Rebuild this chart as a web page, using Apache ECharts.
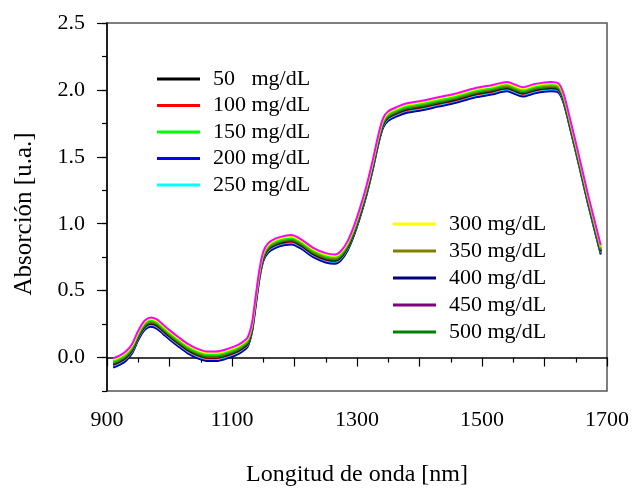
<!DOCTYPE html>
<html>
<head>
<meta charset="utf-8">
<script src="https://cdn.jsdelivr.net/npm/echarts@6/dist/echarts.min.js"></script>
<style>html,body{margin:0;padding:0;background:#fff;}#c{width:632px;height:489px;}</style>
</head>
<body>
<div id="c"></div>
<script>
const wavelengths = [910,920,930,940,950,960,970,980,990,1000,1015,1030,1045,1060,1075,1090,1105,1115,1125,1132,1138,1144,1150,1158,1170,1185,1195,1210,1230,1250,1265,1275,1285,1295,1305,1315,1325,1335,1342,1350,1365,1380,1400,1430,1460,1490,1515,1540,1550,1565,1585,1610,1622,1630,1640,1655,1670,1690];

const s450 = [-0.005,0.015,0.045,0.100,0.200,0.275,0.300,0.285,0.245,0.205,0.150,0.100,0.065,0.045,0.045,0.060,0.085,0.110,0.150,0.260,0.460,0.660,0.790,0.855,0.890,0.910,0.915,0.885,0.820,0.780,0.770,0.800,0.870,0.980,1.120,1.280,1.470,1.680,1.790,1.840,1.875,1.900,1.915,1.945,1.975,2.015,2.035,2.060,2.045,2.020,2.045,2.060,2.050,1.980,1.800,1.510,1.210,0.840];
const s300 = [-0.015,0.005,0.035,0.090,0.190,0.265,0.290,0.275,0.235,0.195,0.140,0.090,0.055,0.035,0.035,0.050,0.075,0.100,0.140,0.250,0.450,0.650,0.780,0.845,0.880,0.900,0.905,0.875,0.810,0.770,0.760,0.790,0.860,0.970,1.110,1.270,1.460,1.670,1.780,1.830,1.865,1.890,1.905,1.935,1.965,2.005,2.025,2.050,2.035,2.010,2.035,2.050,2.040,1.970,1.790,1.500,1.200,0.830];
const s150 = [-0.025,-0.005,0.025,0.080,0.180,0.255,0.280,0.265,0.225,0.185,0.130,0.080,0.045,0.025,0.025,0.040,0.065,0.090,0.130,0.240,0.440,0.640,0.770,0.835,0.870,0.890,0.895,0.865,0.800,0.760,0.750,0.780,0.850,0.960,1.100,1.260,1.450,1.660,1.770,1.820,1.855,1.880,1.895,1.925,1.955,1.995,2.015,2.040,2.025,2.000,2.025,2.040,2.030,1.960,1.780,1.490,1.190,0.820];
const s350 = [-0.035,-0.015,0.015,0.070,0.170,0.245,0.270,0.255,0.215,0.175,0.120,0.070,0.035,0.015,0.015,0.030,0.055,0.080,0.120,0.230,0.430,0.630,0.760,0.825,0.860,0.880,0.885,0.855,0.790,0.750,0.740,0.770,0.840,0.950,1.090,1.250,1.440,1.650,1.760,1.810,1.845,1.870,1.885,1.915,1.945,1.985,2.005,2.030,2.015,1.990,2.015,2.030,2.020,1.950,1.770,1.480,1.180,0.810];
const s500 = [-0.045,-0.025,0.005,0.060,0.160,0.235,0.260,0.245,0.205,0.165,0.110,0.060,0.025,0.005,0.005,0.020,0.045,0.070,0.110,0.220,0.420,0.620,0.750,0.815,0.850,0.870,0.875,0.845,0.780,0.740,0.730,0.760,0.830,0.940,1.080,1.240,1.430,1.640,1.750,1.800,1.835,1.860,1.875,1.905,1.935,1.975,1.995,2.020,2.005,1.980,2.005,2.020,2.010,1.940,1.760,1.470,1.170,0.800];
const s50  = [-0.050,-0.030,0.000,0.055,0.155,0.230,0.255,0.240,0.200,0.160,0.105,0.055,0.020,0.000,0.000,0.015,0.040,0.065,0.105,0.215,0.415,0.615,0.745,0.810,0.845,0.865,0.870,0.840,0.775,0.735,0.725,0.755,0.825,0.935,1.075,1.235,1.425,1.635,1.745,1.795,1.830,1.855,1.870,1.900,1.930,1.970,1.990,2.015,2.000,1.975,2.000,2.015,2.005,1.935,1.755,1.465,1.165,0.795];
const s100 = [-0.055,-0.035,-0.005,0.050,0.150,0.225,0.250,0.235,0.195,0.155,0.100,0.050,0.015,-0.005,-0.005,0.010,0.035,0.060,0.100,0.210,0.410,0.610,0.740,0.805,0.840,0.860,0.865,0.835,0.770,0.730,0.720,0.750,0.820,0.930,1.070,1.230,1.420,1.630,1.740,1.790,1.825,1.850,1.865,1.895,1.925,1.965,1.985,2.010,1.995,1.970,1.995,2.010,2.000,1.930,1.750,1.460,1.160,0.790];
const s250 = [-0.060,-0.040,-0.010,0.045,0.145,0.220,0.245,0.230,0.190,0.150,0.095,0.045,0.010,-0.010,-0.010,0.005,0.030,0.055,0.095,0.205,0.405,0.605,0.735,0.800,0.835,0.855,0.860,0.830,0.765,0.725,0.715,0.745,0.815,0.925,1.065,1.225,1.415,1.625,1.735,1.785,1.820,1.845,1.860,1.890,1.920,1.960,1.980,2.005,1.990,1.965,1.990,2.005,1.995,1.925,1.745,1.455,1.155,0.785];
const s200 = [-0.065,-0.045,-0.015,0.040,0.140,0.215,0.240,0.225,0.185,0.145,0.090,0.040,0.005,-0.015,-0.015,0.000,0.025,0.050,0.090,0.200,0.400,0.600,0.730,0.795,0.830,0.850,0.855,0.825,0.760,0.720,0.710,0.740,0.810,0.920,1.060,1.220,1.410,1.620,1.730,1.780,1.815,1.840,1.855,1.885,1.915,1.955,1.975,2.000,1.985,1.960,1.985,2.000,1.990,1.920,1.740,1.450,1.150,0.780];
const s400 = [-0.075,-0.055,-0.025,0.030,0.130,0.205,0.230,0.215,0.175,0.135,0.080,0.030,-0.005,-0.025,-0.025,-0.010,0.015,0.040,0.080,0.190,0.390,0.590,0.720,0.785,0.820,0.840,0.845,0.815,0.750,0.710,0.700,0.730,0.800,0.910,1.050,1.210,1.400,1.610,1.720,1.770,1.805,1.830,1.845,1.875,1.905,1.945,1.965,1.990,1.975,1.950,1.975,1.990,1.980,1.910,1.730,1.440,1.140,0.770];

const seriesNames = ['50   mg/dL','100 mg/dL','150 mg/dL','200 mg/dL','250 mg/dL','300 mg/dL','350 mg/dL','400 mg/dL','450 mg/dL','500 mg/dL'];
const seriesValues = [s50,s100,s150,s200,s250,s300,s350,s400,s450,s500];
const lineColors = ['#000000','#ff0000','#00ff00','#0000ff','#00ffff','#ffff00','#808000','#000080','#ff00ff','#008000'];
const legendColors = ['#000000','#ff0000','#00ff00','#0000ff','#00ffff','#ffff00','#808000','#000080','#800080','#008000'];
// drawing order: bottom curves first, top last
const drawOrder = [7,3,4,1,0,9,6,2,5,8];

const xTickLabels = [900,1100,1300,1500,1700];
const yTickLabels = [0,0.5,1.0,1.5,2.0,2.5];

const FONT = 'Liberation Serif';
const chart = echarts.init(document.getElementById('c'), null, {renderer:'canvas'});

const series = drawOrder.map(i => ({
  name: seriesNames[i],
  type: 'line',
  xAxisIndex: 0, yAxisIndex: 0,
  data: wavelengths.map((w,k) => [w, seriesValues[i][k]]),
  showSymbol: false, symbol: 'none',
  smooth: 0.3,
  lineStyle: {color: lineColors[i], width: 2},
  itemStyle: {color: lineColors[i]},
  animation: false, silent: true
}));

function legendData(idx){
  return idx.map(i => ({name: seriesNames[i], itemStyle:{color: legendColors[i]}}));
}
const legendCommon = {
  orient: 'vertical', icon: 'rect', itemWidth: 43, itemHeight: 3,
  selectedMode: false, padding: 0,
  textStyle: {fontFamily: FONT, fontSize: 22, color: '#000', lineHeight: 21, padding:[0,0,0,8]}
};

const option = {
  backgroundColor: '#ffffff',
  animation: false,
  grid: {left: 107, right: 25, top: 23, bottom: 98, show: true, borderColor: '#555', borderWidth: 1.5,
         backgroundColor: 'transparent', outerBoundsMode: 'none', containLabel: false},
  legend: [
    Object.assign({}, legendCommon, {left: 157, top: 68, itemGap: 4.5, data: legendData([0,1,2,3,4])}),
    Object.assign({}, legendCommon, {left: 393, top: 213, itemGap: 5, data: legendData([5,6,7,8,9])})
  ],
  xAxis: [{
    type: 'value', min: 900, max: 1700, interval: 100,
    name: 'Longitud de onda [nm]', nameLocation: 'middle', nameGap: 72,
    nameTextStyle: {fontFamily: FONT, fontSize: 24, color: '#000'},
    axisLine: {show: true, lineStyle: {color: '#000', width: 1.5}},
    axisTick: {show: true, inside: false, length: 9, lineStyle: {color: '#000', width: 1.2}},
    minorTick: {show: true, splitNumber: 2, length: 5, lineStyle: {color: '#000', width: 1.2}},
    axisLabel: {fontFamily: FONT, fontSize: 22, color: '#000', margin: 18,
      formatter: v => xTickLabels.indexOf(v) >= 0 ? String(v) : ''},
    splitLine: {show: false}
  }],
  yAxis: [{
    type: 'value', min: -0.25, max: 2.5, interval: 0.25, position: 'left',
    name: 'Absorción [u.a.]', nameLocation: 'middle', nameGap: 70,
    nameTextStyle: {fontFamily: FONT, fontSize: 25, color: '#000', padding: [0,14,0,0]},
    axisLine: {show: true, lineStyle: {color: '#000', width: 1.5}},
    axisTick: {show: true, length: 5, lineStyle: {color: '#000', width: 1.2}},
    axisLabel: {fontFamily: FONT, fontSize: 22, color: '#000', margin: 22,
      formatter: v => {
        const m = yTickLabels.find(t => Math.abs(t - v) < 1e-6);
        return m === undefined ? '' : m.toFixed(1);
      }},
    splitLine: {show: false}
  },{
    type: 'value', min: -0.25, max: 2.5, position: 'left', offset: 0,
    axisLine: {show: false},
    axisTick: {show: true, length: 10, customValues: yTickLabels, lineStyle: {color: '#000', width: 1.2}},
    axisLabel: {show: false},
    splitLine: {show: false}
  }],
  series: series
};
chart.setOption(option);
</script>
</body>
</html>
